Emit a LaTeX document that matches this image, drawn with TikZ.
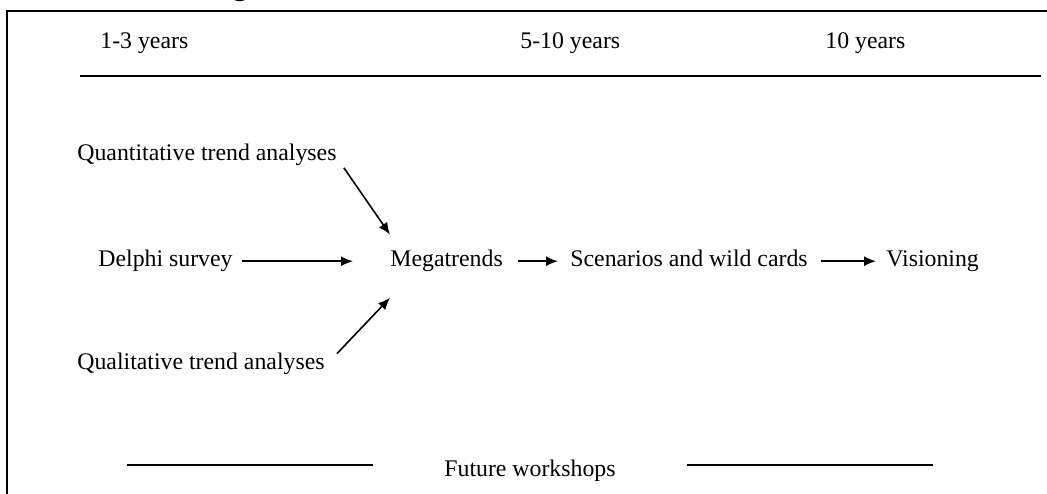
\documentclass[tikz,border=0pt]{standalone}
\usepackage{fontspec}
\setmainfont{Liberation Serif}
\usetikzlibrary{arrows.meta}
\begin{document}
\begin{tikzpicture}[x=0.5pt,y=-0.5pt,
  lbl/.style={inner sep=0pt,anchor=base west,font=\fontsize{11.9}{14}\selectfont,text height=0.7em,text depth=0.22em},
  rule/.style={line width=1.2pt},
  arr/.style={line width=0.8pt,-{Latex[length=6pt,width=5pt]}}]
\useasboundingbox (0,0) rectangle (1047,493);
% clipped title fragment
\begin{scope}
\clip (0,0) rectangle (1047,493);
\node[inner sep=0pt,anchor=base,font=\bfseries\fontsize{14}{16}\selectfont] (title) at (240,-5) {g};
\end{scope}
% frame
\draw[line width=1pt] (7,500) -- (7,11) -- (1050,11);
% header
\node[lbl] (h1) at (100,48) {1-3 years};
\node[lbl] (h2) at (520,48) {5-10 years};
\node[lbl] (h3) at (825,48) {10 years};
\draw[rule] (80,76) -- (1041,76);
% rows
\node[lbl] (quant) at (77,160) {Quantitative trend analyses};
\node[lbl] (delphi) at (98,266) {Delphi survey};
\node[lbl] (mega) at (390,266) {Megatrends};
\node[lbl] (scen) at (570,266) {Scenarios and wild cards};
\node[lbl] (vis) at (886,266) {Visioning};
\node[lbl] (qual) at (77,369) {Qualitative trend analyses};
\draw[arr,shorten <=4.5pt,shorten >=18.5pt] (delphi.east) -- (mega.west);
\draw[arr,shorten <=7.5pt,shorten >=6pt] (mega.east) -- (scen.west);
\draw[arr,shorten <=6.5pt,shorten >=5pt] (scen.east) -- (vis.west);
\draw[arr] ([shift={(7,3)}]quant.south east) -- ([shift={(0,-17)}]mega.north west);
\draw[arr] ([shift={(12,-1)}]qual.north east) -- ([shift={(0,27)}]mega.south west);
% bottom
\node[lbl,anchor=base] (fw) at (530,476) {Future workshops};
\draw[rule] (127,465) -- (373,465);
\draw[rule] (687,465) -- (933,465);
\end{tikzpicture}
\end{document}
